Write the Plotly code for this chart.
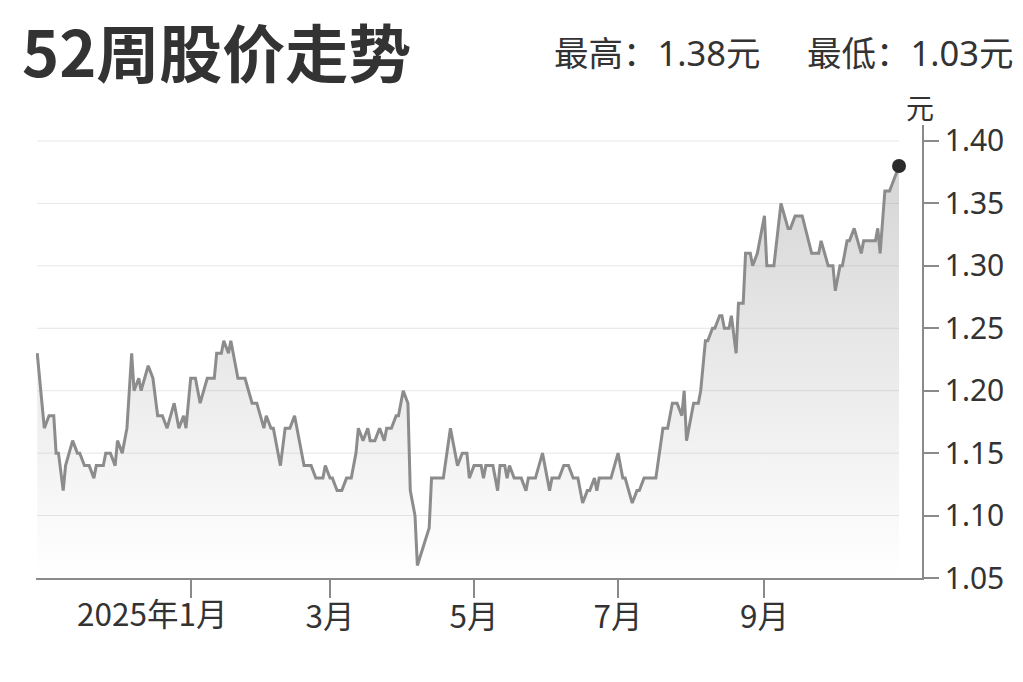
import plotly.graph_objects as go

# 52-week closing prices (vertices)
dates = [
    "2024-10-28", "2024-10-29", "2024-10-31", "2024-11-02", "2024-11-04", "2024-11-05", "2024-11-06", "2024-11-08", "2024-11-09", "2024-11-12",
    "2024-11-14", "2024-11-15", "2024-11-17", "2024-11-19", "2024-11-21", "2024-11-22", "2024-11-25", "2024-11-26", "2024-11-28", "2024-11-30",
    "2024-12-01", "2024-12-03", "2024-12-05", "2024-12-07", "2024-12-08", "2024-12-10", "2024-12-11", "2024-12-14", "2024-12-16", "2024-12-18",
    "2024-12-20", "2024-12-22", "2024-12-25", "2024-12-27", "2024-12-29", "2024-12-30", "2025-01-01", "2025-01-03", "2025-01-05", "2025-01-08",
    "2025-01-11", "2025-01-12", "2025-01-14", "2025-01-15", "2025-01-17", "2025-01-18", "2025-01-21", "2025-01-24", "2025-01-27", "2025-01-29",
    "2025-02-01", "2025-02-02", "2025-02-04", "2025-02-05", "2025-02-08", "2025-02-10", "2025-02-12", "2025-02-14", "2025-02-16", "2025-02-18",
    "2025-02-21", "2025-02-23", "2025-02-26", "2025-02-27", "2025-03-01", "2025-03-02", "2025-03-04", "2025-03-06", "2025-03-08", "2025-03-10",
    "2025-03-12", "2025-03-13", "2025-03-15", "2025-03-17", "2025-03-18", "2025-03-20", "2025-03-22", "2025-03-24", "2025-03-25", "2025-03-27",
    "2025-03-29", "2025-03-30", "2025-04-01", "2025-04-03", "2025-04-04", "2025-04-06", "2025-04-07", "2025-04-12", "2025-04-13", "2025-04-18",
    "2025-04-21", "2025-04-24", "2025-04-26", "2025-04-28", "2025-04-29", "2025-05-01", "2025-05-04", "2025-05-05", "2025-05-06", "2025-05-09",
    "2025-05-11", "2025-05-12", "2025-05-14", "2025-05-15", "2025-05-16", "2025-05-18", "2025-05-21", "2025-05-23", "2025-05-24", "2025-05-27",
    "2025-05-30", "2025-06-02", "2025-06-03", "2025-06-06", "2025-06-08", "2025-06-10", "2025-06-12", "2025-06-14", "2025-06-16", "2025-06-18",
    "2025-06-19", "2025-06-21", "2025-06-22", "2025-06-23", "2025-06-28", "2025-07-01", "2025-07-03", "2025-07-04", "2025-07-07", "2025-07-09",
    "2025-07-10", "2025-07-12", "2025-07-17", "2025-07-20", "2025-07-22", "2025-07-24", "2025-07-26", "2025-07-28", "2025-07-29", "2025-07-30",
    "2025-08-02", "2025-08-04", "2025-08-05", "2025-08-07", "2025-08-08", "2025-08-10", "2025-08-11", "2025-08-13", "2025-08-14", "2025-08-15",
    "2025-08-17", "2025-08-18", "2025-08-20", "2025-08-21", "2025-08-23", "2025-08-24", "2025-08-26", "2025-08-27", "2025-08-29", "2025-08-30",
    "2025-09-01", "2025-09-02", "2025-09-05", "2025-09-08", "2025-09-11", "2025-09-12", "2025-09-14", "2025-09-17", "2025-09-21", "2025-09-24",
    "2025-09-25", "2025-09-28", "2025-09-30", "2025-10-01", "2025-10-03", "2025-10-04", "2025-10-06", "2025-10-07", "2025-10-09", "2025-10-12",
    "2025-10-13", "2025-10-18", "2025-10-19", "2025-10-20", "2025-10-22", "2025-10-24", "2025-10-26", "2025-10-28",
]
prices = [
    1.23, 1.21, 1.17, 1.18, 1.18, 1.15, 1.15, 1.12, 1.14, 1.16,
    1.15, 1.15, 1.14, 1.14, 1.13, 1.14, 1.14, 1.15, 1.15, 1.14,
    1.16, 1.15, 1.17, 1.23, 1.20, 1.21, 1.20, 1.22, 1.21, 1.18,
    1.18, 1.17, 1.19, 1.17, 1.18, 1.17, 1.21, 1.21, 1.19, 1.21,
    1.21, 1.23, 1.23, 1.24, 1.23, 1.24, 1.21, 1.21, 1.19, 1.19,
    1.17, 1.18, 1.17, 1.17, 1.14, 1.17, 1.17, 1.18, 1.16, 1.14,
    1.14, 1.13, 1.13, 1.14, 1.13, 1.13, 1.12, 1.12, 1.13, 1.13,
    1.15, 1.17, 1.16, 1.17, 1.16, 1.16, 1.17, 1.16, 1.17, 1.17,
    1.18, 1.18, 1.20, 1.19, 1.12, 1.10, 1.06, 1.09, 1.13, 1.13,
    1.17, 1.14, 1.15, 1.15, 1.13, 1.14, 1.14, 1.13, 1.14, 1.14,
    1.12, 1.14, 1.14, 1.13, 1.14, 1.13, 1.13, 1.12, 1.13, 1.13,
    1.15, 1.12, 1.13, 1.13, 1.14, 1.14, 1.13, 1.13, 1.11, 1.12,
    1.12, 1.13, 1.12, 1.13, 1.13, 1.15, 1.13, 1.13, 1.11, 1.12,
    1.12, 1.13, 1.13, 1.17, 1.17, 1.19, 1.19, 1.18, 1.20, 1.16,
    1.19, 1.19, 1.20, 1.24, 1.24, 1.25, 1.25, 1.26, 1.26, 1.25,
    1.25, 1.26, 1.23, 1.27, 1.27, 1.31, 1.31, 1.30, 1.31, 1.32,
    1.34, 1.30, 1.30, 1.35, 1.33, 1.33, 1.34, 1.34, 1.31, 1.31,
    1.32, 1.30, 1.30, 1.28, 1.30, 1.30, 1.32, 1.32, 1.33, 1.31,
    1.32, 1.32, 1.33, 1.31, 1.36, 1.36, 1.37, 1.38,
]

high_price = 1.38
low_price = 1.03

x_tick_dates = ["2025-01-01", "2025-03-01", "2025-05-01", "2025-07-01", "2025-09-01"]
x_tick_text = ["", "3月", "5月", "7月", "9月"]
first_tick_text = "2025年1月"
y_ticks = [1.05, 1.10, 1.15, 1.20, 1.25, 1.30, 1.35, 1.40]

CJK = "Noto Sans CJK SC"
NUM = "Noto Sans, Noto Sans CJK SC"
TEXT = "#333333"
AXIS = "#8a8a8a"

fig = go.Figure()

fig.add_trace(go.Scatter(
    x=dates, y=prices,
    mode="lines",
    line=dict(color="#8c8c8c", width=3),
    fill="tozeroy",
    fillgradient=dict(
        type="vertical", start=1.05, stop=1.40,
        colorscale=[[0, "rgba(150,150,150,0)"], [1, "rgba(150,150,150,0.42)"]],
    ),
    hoverinfo="skip",
))

# last close marker
fig.add_trace(go.Scatter(
    x=[dates[-1]], y=[prices[-1]],
    mode="markers",
    marker=dict(color="#2b2b2b", size=14),
    hoverinfo="skip",
))

# gridlines stop at the last data point, not at the axis
shapes = []
for v in y_ticks[1:]:
    shapes.append(dict(
        type="line", xref="x", yref="y",
        x0=dates[0], x1=dates[-1], y0=v, y1=v,
        line=dict(color="#e6e6e6", width=1), layer="below",
    ))

fig.update_layout(
    width=1015, height=674,
    margin=dict(l=28, r=101, t=117, b=104),
    paper_bgcolor="white", plot_bgcolor="white",
    showlegend=False,
    shapes=shapes,
    font=dict(family=CJK, color=TEXT),
    title=dict(
        text="52周股价走势",
        font=dict(family=CJK, size=63, color=TEXT, weight="bold"),
        xref="container", yref="container",
        x=0.0138, xanchor="left", y=0.9303, yanchor="middle",
    ),
    xaxis=dict(
        type="date",
        range=["2024-10-27 11:30", "2025-11-06 17:30"],
        showgrid=False, zeroline=False,
        showline=True, linecolor=AXIS, linewidth=1.5,
        ticks="outside", ticklen=18, tickwidth=1.5, tickcolor=AXIS,
        tickvals=x_tick_dates, ticktext=x_tick_text,
        tickfont=dict(family=CJK, size=31.5, color=TEXT),
        ticklabelstandoff=-8,
    ),
    yaxis=dict(
        side="right",
        range=[1.05, 1.4128],
        showgrid=False, zeroline=False,
        showline=True, linecolor=AXIS, linewidth=1.5,
        ticks="outside", ticklen=15, tickwidth=1.5, tickcolor=AXIS,
        tickvals=y_ticks, tickformat=".2f",
        tickfont=dict(family=NUM, size=30, color=TEXT),
    ),
    annotations=[
        dict(text=f"最高：{high_price:.2f}元", xref="paper", yref="paper",
             x=0.8197, y=1.161, xanchor="right", yanchor="middle",
             showarrow=False, font=dict(family=NUM, size=34.5, color=TEXT)),
        dict(text=f"最低：{low_price:.2f}元", xref="paper", yref="paper",
             x=1.1053, y=1.161, xanchor="right", yanchor="middle",
             showarrow=False, font=dict(family=NUM, size=34.5, color=TEXT)),
        dict(text="元", xref="paper", yref="paper",
             x=0.998, y=1.0397, xanchor="center", yanchor="middle",
             showarrow=False, font=dict(family=CJK, size=28, color=TEXT)),
        dict(text=first_tick_text, xref="x", yref="paper",
             x=x_tick_dates[0], y=-0.075, xanchor="center", yanchor="middle",
             xshift=-39, showarrow=False, font=dict(family=CJK, size=31.5, color=TEXT)),
    ],
)

fig.write_html("out.html")
